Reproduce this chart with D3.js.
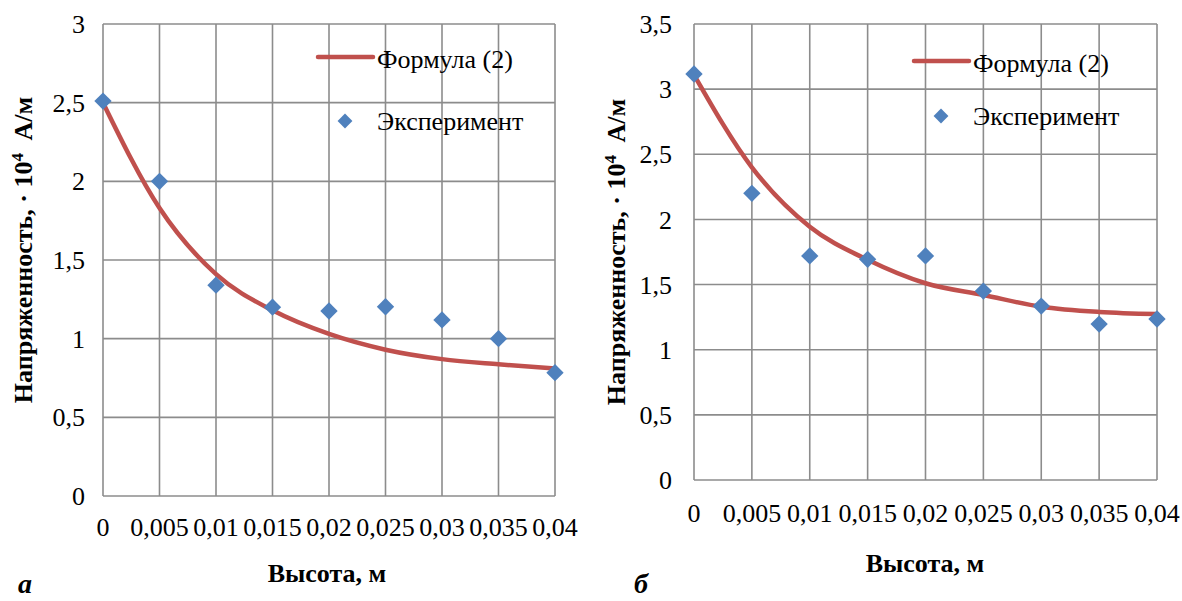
<!DOCTYPE html>
<html>
<head>
<meta charset="utf-8">
<script src="https://cdn.jsdelivr.net/npm/d3@7"></script>
<style>
  body { margin: 0; background: #fff; }
</style>
</head>
<body>
<svg id="chart" width="1182" height="601" font-family="'Times New Roman', 'Liberation Serif', Tinos, 'DejaVu Serif', serif"></svg>
<script>
// heights, m
const heights = [0, 0.005, 0.01, 0.015, 0.02, 0.025, 0.03, 0.035, 0.04];

// panel a
const formulaA = [2.5, 1.83, 1.41, 1.18, 1.03, 0.93, 0.87, 0.837, 0.81];
const experimentA = [2.51, 2.0, 1.34, 1.2, 1.176, 1.203, 1.119, 1.0, 0.784];
const yTicksA = [0, 0.5, 1, 1.5, 2, 2.5, 3];

// panel б
const formulaB = [3.11, 2.4, 1.944, 1.69, 1.51, 1.42, 1.33, 1.29, 1.274];
const experimentB = [3.116, 2.2, 1.72, 1.694, 1.72, 1.45, 1.335, 1.197, 1.236];
const yTicksB = [0, 0.5, 1, 1.5, 2, 2.5, 3, 3.5];

const RED = '#C0504D';
const BLUE = '#4F81BD';
const GRID = '#8c8c8c';
const FS = 26;

const fmt = (v) => String(v).replace('.', ',');

const svg = d3.select('#chart');

const drawPanel = (opts) => {
  const { left, right, top, bottom, yMax, yTicks, formula, experiment, letter, legend } = opts;
  const x = d3.scaleLinear([0, 0.04], [left, right]);
  const y = d3.scaleLinear([0, yMax], [bottom, top]);
  const g = svg.append('g');

  // grid
  g.append('g')
    .selectAll('line')
    .data(yTicks)
    .join('line')
    .attr('x1', left).attr('x2', right)
    .attr('y1', (d) => y(d)).attr('y2', (d) => y(d))
    .attr('stroke', GRID).attr('stroke-width', 1.6);
  g.append('g')
    .selectAll('line')
    .data(heights)
    .join('line')
    .attr('x1', (d) => x(d)).attr('x2', (d) => x(d))
    .attr('y1', top).attr('y2', bottom)
    .attr('stroke', GRID).attr('stroke-width', 1.6);

  // y tick labels
  g.append('g')
    .selectAll('text')
    .data(yTicks)
    .join('text')
    .attr('x', left - opts.yLabelGap)
    .attr('y', (d) => y(d))
    .attr('dy', '0.35em')
    .attr('text-anchor', 'end')
    .attr('font-size', FS)
    .text(fmt);

  // x tick labels
  g.append('g')
    .selectAll('text')
    .data(heights)
    .join('text')
    .attr('x', (d) => x(d))
    .attr('y', bottom + opts.xLabelGap)
    .attr('dy', '0.35em')
    .attr('text-anchor', 'middle')
    .attr('font-size', FS)
    .text(fmt);

  // formula curve
  const pts = heights.map((h, i) => [h, formula[i]]);
  g.append('path')
    .datum(pts)
    .attr('fill', 'none')
    .attr('stroke', RED)
    .attr('stroke-width', 4.5)
    .attr('stroke-linecap', 'round')
    .attr('d', d3.line().x((d) => x(d[0])).y((d) => y(d[1])).curve(d3.curveMonotoneX));

  // experiment markers
  const diamond = d3.symbol(d3.symbolSquare, 150);
  g.append('g')
    .selectAll('path')
    .data(heights.map((h, i) => [h, experiment[i]]))
    .join('path')
    .attr('d', diamond)
    .attr('transform', (d) => `translate(${x(d[0])},${y(d[1])}) rotate(45)`)
    .attr('fill', BLUE);

  // legend
  const lg = g.append('g');
  lg.append('line')
    .attr('x1', legend.x).attr('x2', legend.x + 55)
    .attr('y1', legend.y).attr('y2', legend.y)
    .attr('stroke', RED).attr('stroke-width', 4.5).attr('stroke-linecap', 'round');
  lg.append('text')
    .attr('x', legend.x + 59).attr('y', legend.y + 2).attr('dy', '0.35em')
    .attr('font-size', FS).text('Формула (2)');
  lg.append('path')
    .attr('d', d3.symbol(d3.symbolSquare, 110))
    .attr('transform', `translate(${legend.x + 27},${legend.y + legend.gap}) rotate(45)`)
    .attr('fill', BLUE);
  lg.append('text')
    .attr('x', legend.x + 59).attr('y', legend.y + legend.gap).attr('dy', '0.35em')
    .attr('font-size', FS).text('Эксперимент');

  // axis titles
  g.append('text')
    .attr('x', opts.xTitleX)
    .attr('y', opts.xTitleY)
    .attr('text-anchor', 'middle')
    .attr('font-size', 26)
    .attr('font-weight', 'bold')
    .text('Высота, м');

  const yt = g.append('text')
    .attr('transform', `translate(${opts.yTitleX},${opts.yTitleY}) rotate(-90)`)
    .attr('text-anchor', 'middle')
    .attr('font-size', 26)
    .attr('font-weight', 'bold');
  yt.append('tspan').text('Напряженность, · 10');
  yt.append('tspan').attr('font-size', 17).attr('dy', -9).text('4');
  yt.append('tspan').attr('dy', 9).attr('dx', 6).text('\u00a0А/м');

  // panel letter
  g.append('text')
    .attr('x', letter.x).attr('y', letter.y)
    .attr('text-anchor', 'middle')
    .attr('font-size', 28)
    .attr('font-weight', 'bold')
    .attr('font-style', 'italic')
    .text(letter.text);
};

drawPanel({
  left: 103, right: 555, top: 24, bottom: 496, yMax: 3, yTicks: yTicksA,
  formula: formulaA, experiment: experimentA,
  yLabelGap: 18, xLabelGap: 31,
  legend: { x: 318, y: 57, gap: 64 },
  xTitleX: 327, xTitleY: 582, yTitleX: 32, yTitleY: 250,
  letter: { x: 25, y: 593, text: 'а' },
});

drawPanel({
  left: 694, right: 1157, top: 24, bottom: 480, yMax: 3.5, yTicks: yTicksB,
  formula: formulaB, experiment: experimentB,
  yLabelGap: 22, xLabelGap: 33,
  legend: { x: 914, y: 61, gap: 55 },
  xTitleX: 925, xTitleY: 572, yTitleX: 625, yTitleY: 252,
  letter: { x: 641, y: 593, text: 'б' },
});
</script>
</body>
</html>
